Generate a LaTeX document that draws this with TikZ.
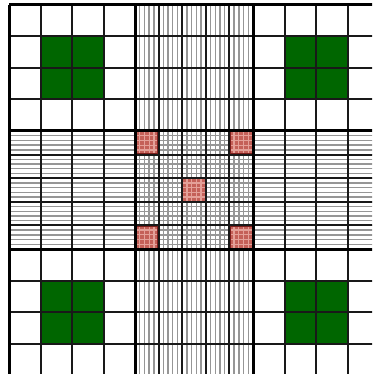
\documentclass[tikz,border=0pt]{standalone}
\definecolor{gr}{RGB}{0,102,0}
\definecolor{rd}{RGB}{196,96,88}
\definecolor{rdb}{RGB}{125,30,28}
\definecolor{pk}{RGB}{228,160,152}
\definecolor{ht}{RGB}{150,150,150}
\tikzset{
  hatch/.style={ht, line width=1.4pt},
  cellline/.style={black!90, line width=2pt},
  blockline/.style={black, line width=3pt},
  greencell/.style={fill=gr},
  redcell/.style={fill=rd},
}
\begin{document}
\begin{tikzpicture}[x=1pt,y=-1pt]
\useasboundingbox (0,0) rectangle (372,374);
\fill[white] (0,0) rectangle (372,374);
\clip (0,0) rectangle (372,374);
% green squares in corner blocks
\foreach \x/\y in {40.5/36.5, 284.5/36.5, 40.5/280.5, 284.5/280.5}
  \fill[greencell] (\x,\y) rectangle ++(63,63);
% hatching
\foreach \k in {1,...,24}{
  \pgfmathsetmacro\h{135+\k*4.72}
  \draw[hatch] (\h,5) -- (\h,375);
  \pgfmathsetmacro\v{131+\k*4.72}
  \draw[hatch] (9,\v) -- (379,\v);
}
% red cells
\foreach \x/\y in {135/131, 229.4/131, 182.2/178.2, 135/225.4, 229.4/225.4}{
  \fill[redcell] (\x,\y) rectangle ++(23.6,23.6);
  \begin{scope}
    \clip (\x,\y) rectangle ++(23.6,23.6);
    \foreach \k in {1,...,4}{
      \draw[pk, line width=1.3pt] (\x+\k*4.72,\y) -- ++(0,23.6);
      \draw[pk, line width=1.3pt] (\x,\y+\k*4.72) -- ++(23.6,0);
    }
  \end{scope}
  \draw[rdb, line width=1.2pt] (\x+0.6,\y+0.6) rectangle ++(22.4,22.4);
}
% cell lines
\foreach \x in {40.5,72,103.5,158.6,182.2,205.8,229.4,284.5,316,347.5}
  \draw[cellline] (\x,5) -- (\x,375);
\foreach \y in {36.5,68,99.5,154.6,178.2,201.8,225.4,280.5,312,343.5}
  \draw[cellline] (9,\y) -- (379,\y);
% block lines
\foreach \x in {9,135,253,379}
  \draw[blockline] (\x,5) -- (\x,375);
\foreach \y in {5,131,249,375}
  \draw[blockline] (9,\y) -- (379,\y);
\end{tikzpicture}
\end{document}
